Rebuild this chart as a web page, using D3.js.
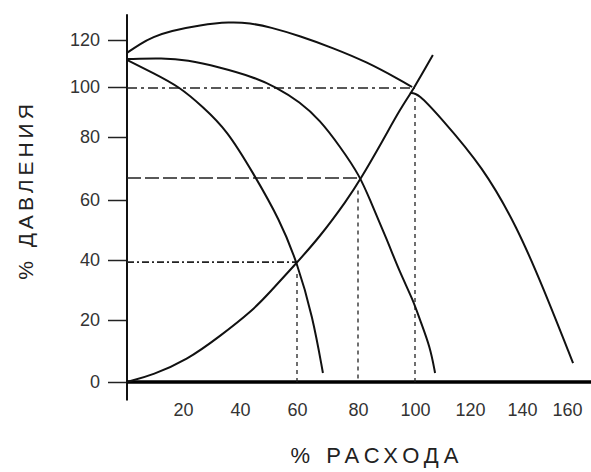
<!DOCTYPE html>
<html>
<head>
<meta charset="utf-8">
<script src="https://cdn.jsdelivr.net/npm/d3@7"></script>
<style>
body { margin: 0; background: #fff; }
text { font-family: "Liberation Sans", Arial, sans-serif; }
</style>
</head>
<body>
<div id="chart"></div>
<script>
'use strict';

// tick labels
var xTicks = [20, 40, 60, 80, 100, 120, 140, 160];
var yTicks = [0, 20, 40, 60, 80, 100, 120];

// curves: [% расхода, % давления]
var curveTop = [[0, 114.5], [4.6, 118.3], [9.3, 121.3], [15.4, 123.8], [26, 126.4], [36.5, 127.7],
    [43.5, 127.2], [50.5, 125.5], [61, 121.7], [71.8, 116.6], [83.2, 110.6], [94.7, 103], [99, 100]];
var curveFlat = [[0, 111.9], [12.9, 112.3], [21.4, 111.5], [32.6, 108.5], [44.6, 104.3], [52.6, 100],
    [61, 94], [67.5, 86.8], [74.1, 77], [80.7, 67.6], [84.2, 60], [90.2, 46.7], [94.7, 35.8],
    [99.3, 26.7], [101.8, 20], [105.5, 11.3], [107.3, 2.9]];
var curveSteep = [[0, 111.5], [9.3, 106], [18.9, 100], [27, 92], [35.4, 82.8], [44.6, 68.6],
    [54, 53.3], [60, 39.3], [65.2, 21], [68.5, 2.9]];
var curveRight = [[98.2, 97.6], [101.1, 97.6], [109.1, 88], [125, 70.5], [138.1, 51], [149.3, 31], [162.7, 6.1]];
var curveSystem = [[0, 0], [9.3, 2.3], [21.4, 7.1], [32.6, 14.5], [44.6, 23.3], [50.2, 29], [58.6, 37.7],
    [67.5, 47.7], [76.4, 60], [80.7, 66.3], [88.8, 79], [94.7, 91], [99.3, 98.8], [106.5, 113.6]];

// operating points (guide lines to both axes)
var workPoints = [[60, 39.3], [80, 67], [100, 99.6]];

var pump = {};
pump.width = 591;
pump.height = 472;
// the scan is stretched unevenly, so the scales are piecewise
pump.xDomain = [0, 20, 40, 60, 80, 100, 120, 140, 160];
pump.xRange = [127, 183, 240, 297, 358, 415, 470, 522, 567];
pump.yDomain = [0, 20, 40, 60, 80, 100, 120];
pump.yRange = [382, 320, 260, 200, 137, 87, 40];
pump.guideDash = ['7,3,2,3', '14,4', '10,4,3,4'];

pump.appendSvg = function (div)
{
    return d3.select(div).append('svg')
        .attr('width', pump.width)
        .attr('height', pump.height)
        .style('background', '#fff');
}

pump.createAxes = function (svg)
{
    pump.x = d3.scaleLinear().domain(pump.xDomain).range(pump.xRange);
    pump.y = d3.scaleLinear().domain(pump.yDomain).range(pump.yRange);

    var yAxisGroup = svg.append('g')
        .attr('transform', 'translate(' + pump.x(0) + ',0)')
        .call(d3.axisLeft(pump.y).tickValues(yTicks).tickSize(19).tickPadding(8).tickFormat(d3.format('d')));
    yAxisGroup.select('.domain').remove();
    yAxisGroup.selectAll('line').attr('stroke', '#222').attr('stroke-width', 1.5);
    yAxisGroup.selectAll('text').attr('font-size', '18px').attr('fill', '#333');

    var xAxisGroup = svg.append('g')
        .attr('transform', 'translate(0,' + pump.y(0) + ')')
        .call(d3.axisBottom(pump.x).tickValues(xTicks).tickSize(0).tickPadding(21).tickFormat(d3.format('d')));
    xAxisGroup.select('.domain').remove();
    xAxisGroup.selectAll('text').attr('font-size', '18px').attr('fill', '#333');

    // axis lines
    svg.append('line')
        .attr('x1', pump.x(0)).attr('x2', pump.x(0))
        .attr('y1', pump.y(131)).attr('y2', pump.y(-6))
        .attr('stroke', '#111').attr('stroke-width', 2);
    svg.append('line')
        .attr('x1', pump.x(0)).attr('x2', pump.width)
        .attr('y1', pump.y(0)).attr('y2', pump.y(0))
        .attr('stroke', '#000').attr('stroke-width', 3.5);

    svg.append('text')
        .attr('x', 377).attr('y', 463)
        .attr('text-anchor', 'middle')
        .attr('font-size', '22px')
        .attr('letter-spacing', '5px')
        .attr('fill', '#222')
        .text('% РАСХОДА');

    svg.append('text')
        .attr('transform', 'translate(33,190) rotate(-90)')
        .attr('text-anchor', 'middle')
        .attr('font-size', '21px')
        .attr('letter-spacing', '4px')
        .attr('fill', '#222')
        .text('% ДАВЛЕНИЯ');
}

pump.appendGuides = function (svg)
{
    var g = svg.append('g').attr('fill', 'none').attr('stroke', '#222').attr('stroke-width', 1.6);
    g.selectAll('.hguide')
        .data(workPoints)
        .enter()
        .append('line')
        .attr('x1', pump.x(0))
        .attr('x2', function (d) { return pump.x(d[0]); })
        .attr('y1', function (d) { return pump.y(d[1]); })
        .attr('y2', function (d) { return pump.y(d[1]); })
        .attr('stroke-dasharray', function (d, i) { return pump.guideDash[i]; });
    g.selectAll('.vguide')
        .data(workPoints)
        .enter()
        .append('line')
        .attr('x1', function (d) { return pump.x(d[0]); })
        .attr('x2', function (d) { return pump.x(d[0]); })
        .attr('y1', function (d) { return pump.y(d[1] - 4); })
        .attr('y2', pump.y(0))
        .attr('stroke-width', 1.3)
        .attr('stroke-dasharray', '4,4');
}

pump.appendCurves = function (svg)
{
    var line = d3.line()
        .x(function (d) { return pump.x(d[0]); })
        .y(function (d) { return pump.y(d[1]); })
        .curve(d3.curveBasis);
    var curves = [curveTop, curveFlat, curveSteep, curveRight, curveSystem];
    svg.append('g').selectAll('path')
        .data(curves)
        .enter()
        .append('path')
        .attr('d', line)
        .attr('fill', 'none')
        .attr('stroke', '#111')
        .attr('stroke-width', 2);
}

var svg = pump.appendSvg('#chart');
pump.createAxes(svg);
pump.appendGuides(svg);
pump.appendCurves(svg);
</script>
</body>
</html>
